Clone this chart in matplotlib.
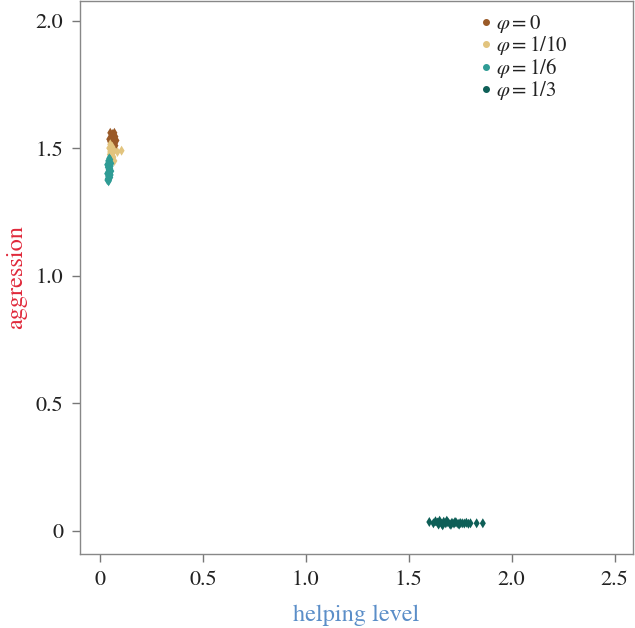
import matplotlib
matplotlib.use("Agg")
import matplotlib.pyplot as plt
from matplotlib.lines import Line2D

plt.rcParams['font.family'] = ['STIXGeneral', 'DejaVu Serif']
plt.rcParams['mathtext.fontset'] = 'stix'

labels = [r'$\varphi = 0$', r'$\varphi = 1/10$', r'$\varphi = 1/6$', r'$\varphi = 1/3$']
colors = ['#9a5a28', '#e2c47e', '#2f9c95', '#0e5f57']

# phi = 0
x0 = [0.05, 0.06, 0.07, 0.055, 0.065, 0.075, 0.045, 0.06, 0.07, 0.08, 0.05, 0.065, 0.058, 0.072, 0.062, 0.068, 0.055, 0.075]
y0 = [1.56, 1.555, 1.56, 1.545, 1.55, 1.545, 1.535, 1.54, 1.535, 1.53, 1.525, 1.525, 1.515, 1.52, 1.51, 1.505, 1.50, 1.51]
# phi = 1/10
x1 = [0.05, 0.06, 0.045, 0.055, 0.07, 0.05, 0.06, 0.105, 0.085, 0.048, 0.058, 0.065, 0.052, 0.062, 0.07]
y1 = [1.515, 1.505, 1.50, 1.495, 1.49, 1.485, 1.48, 1.49, 1.485, 1.475, 1.47, 1.465, 1.46, 1.455, 1.45]
# phi = 1/6
x2 = [0.045, 0.05, 0.04, 0.048, 0.055, 0.035, 0.045, 0.052, 0.038, 0.05, 0.042, 0.055, 0.04, 0.048, 0.035, 0.045, 0.052, 0.04, 0.046, 0.05, 0.038, 0.044, 0.042, 0.036]
y2 = [1.46, 1.455, 1.45, 1.445, 1.44, 1.435, 1.43, 1.43, 1.425, 1.42, 1.415, 1.41, 1.405, 1.40, 1.40, 1.395, 1.395, 1.39, 1.385, 1.385, 1.38, 1.375, 1.37, 1.375]
# phi = 1/3
x3 = [1.60, 1.62, 1.63, 1.64, 1.65, 1.66, 1.67, 1.68, 1.69, 1.70, 1.71, 1.72, 1.73, 1.74, 1.75, 1.76, 1.77, 1.78, 1.79, 1.80, 1.83, 1.86, 1.645, 1.665, 1.685, 1.705, 1.725, 1.745]
y3 = [0.035, 0.03, 0.038, 0.033, 0.04, 0.028, 0.036, 0.03, 0.034, 0.027, 0.032, 0.029, 0.033, 0.028, 0.031, 0.03, 0.029, 0.032, 0.028, 0.03, 0.03, 0.03, 0.025, 0.022, 0.04, 0.024, 0.035, 0.025]

xs = [x0, x1, x2, x3]
ys = [y0, y1, y2, y3]

fig = plt.figure(figsize=(6.35, 6.28), dpi=100)
ax = fig.add_axes([0.126, 0.118, 0.871, 0.881])

for x, y, c in zip(xs, ys, colors):
    ax.scatter(x, y, marker='d', s=26, color=c, edgecolors='none', zorder=3)

ax.set_xlim(-0.097, 2.59)
ax.set_ylim(-0.09, 2.078)
ax.set_xticks([0, 0.5, 1.0, 1.5, 2.0, 2.5])
ax.set_xticklabels(['0', '0.5', '1.0', '1.5', '2.0', '2.5'])
ax.set_yticks([0, 0.5, 1.0, 1.5, 2.0])
ax.set_yticklabels(['0', '0.5', '1.0', '1.5', '2.0'])
ax.tick_params(axis='both', labelsize=16, length=6, width=1, color='#777777', direction='out', pad=6, labelcolor='#222222')
for s in ax.spines.values():
    s.set_color('#888888')
    s.set_linewidth(1)

ax.set_xlabel('helping level', color='#5b8ec8', fontsize=17.5, labelpad=10)
ax.set_ylabel('aggression', color='#e0283a', fontsize=17.5, labelpad=6)

handles = [Line2D([], [], marker='o', linestyle='none', color=c, markersize=4) for c in colors]
leg = ax.legend(handles, labels, loc='upper right', bbox_to_anchor=(0.905, 1.0), frameon=False,
                fontsize=15, handletextpad=0.1, labelspacing=-0.05, handlelength=0.8, borderaxespad=0.2)
for t in leg.get_texts():
    t.set_color('#222222')

fig.savefig('out.png', dpi=100)
